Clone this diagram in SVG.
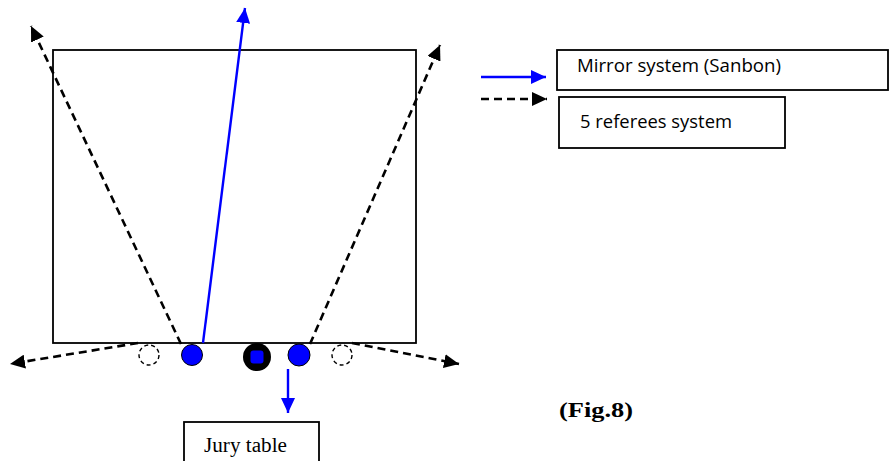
<svg xmlns="http://www.w3.org/2000/svg" width="889" height="461" viewBox="0 0 889 461">
<defs>
<style>
.box{fill:#fff;stroke:#000;stroke-width:1.8}
.dash{fill:none;stroke:#000;stroke-width:2.6;stroke-dasharray:8,5}
.blue{fill:none;stroke:#0000ff;stroke-width:2.4}
.ref{fill:#0000ff;stroke:#000;stroke-width:1}
.empty{fill:#fff;stroke:#000;stroke-width:1.4;stroke-dasharray:4,3}
.sans{font-family:"Open Sans","Liberation Sans",sans-serif;font-size:18px;fill:#000}
.serif{font-family:"Liberation Serif","Times New Roman",serif;fill:#000}
</style>
<marker id="ab" markerUnits="userSpaceOnUse" markerWidth="16" markerHeight="14" refX="15" refY="7" orient="auto">
<path d="M0,0 L15,7 L0,14 z" fill="#0000ff"/>
</marker>
<marker id="ak" markerUnits="userSpaceOnUse" markerWidth="16" markerHeight="14" refX="15" refY="7" orient="auto">
<path d="M0,0 L15,7 L0,14 z" fill="#000"/>
</marker>
</defs>
<rect width="889" height="461" fill="#fff"/>
<g id="field">
<rect x="53" y="50" width="363" height="293" fill="none" stroke="#000" stroke-width="1.8"/>
</g>
<g id="connectors">
<line class="dash" x1="181" y1="344" x2="31" y2="26" marker-end="url(#ak)"/>
<line class="dash" x1="310" y1="344" x2="440" y2="45" marker-end="url(#ak)"/>
<line class="dash" x1="138" y1="343" x2="10" y2="364" marker-end="url(#ak)"/>
<line class="dash" x1="352" y1="343" x2="459" y2="364" marker-end="url(#ak)"/>
<line class="blue" x1="203" y1="343" x2="245" y2="8" marker-end="url(#ab)"/>
<line class="blue" x1="288" y1="369" x2="288" y2="413" marker-end="url(#ab)"/>
<line class="blue" x1="481" y1="77" x2="546" y2="77" marker-end="url(#ab)"/>
<line class="dash" x1="481" y1="99" x2="547" y2="99" marker-end="url(#ak)"/>
</g>
<g id="judge-empty-left"><circle class="empty" cx="149" cy="355" r="10"/></g>
<g id="referee-left"><circle class="ref" cx="192" cy="355" r="10.5"/></g>
<g id="referee-center">
<circle cx="257" cy="357" r="14" fill="#000"/>
<rect x="250.5" y="350.5" width="13" height="13" rx="3" fill="#0000ff"/>
</g>
<g id="referee-right"><circle class="ref" cx="299" cy="355" r="11"/></g>
<g id="judge-empty-right"><circle class="empty" cx="342" cy="355" r="10"/></g>
<g id="legend-mirror">
<rect class="box" x="557" y="50" width="331" height="40"/>
<text class="sans" x="577" y="72" textLength="204" lengthAdjust="spacingAndGlyphs">Mirror system (Sanbon)</text>
</g>
<g id="legend-five">
<rect class="box" x="559" y="97" width="226" height="51"/>
<text class="sans" x="580" y="128" textLength="152" lengthAdjust="spacingAndGlyphs">5 referees system</text>
</g>
<g id="jury-table">
<rect class="box" x="184" y="422" width="135" height="45"/>
<text class="serif" x="204" y="452" font-size="20" textLength="83" lengthAdjust="spacingAndGlyphs">Jury table</text>
</g>
<g id="caption">
<text class="serif" x="559" y="417" font-size="20" font-weight="bold" textLength="74" lengthAdjust="spacingAndGlyphs">(Fig.8)</text>
</g>
</svg>
